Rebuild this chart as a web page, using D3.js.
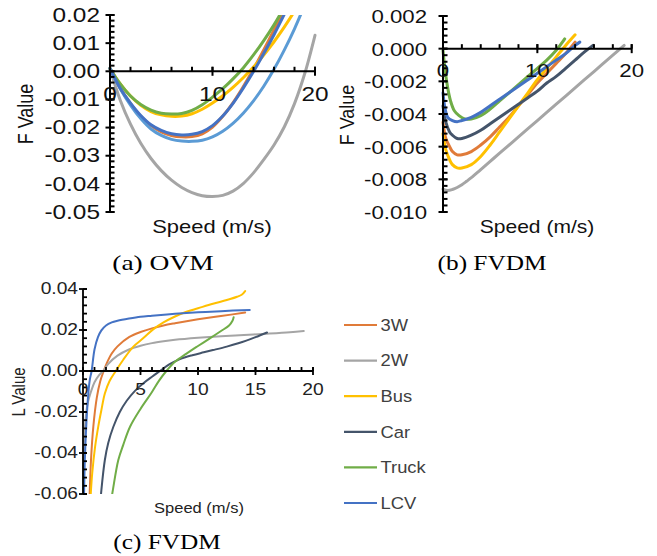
<!DOCTYPE html>
<html><head><meta charset="utf-8">
<script src="https://cdn.jsdelivr.net/npm/d3@7"></script>
<style>html,body{margin:0;padding:0;background:#fff;}svg{display:block;}</style>
</head><body>
<svg id="chart" width="657" height="556"></svg>
<script>
// ---------------- DATA ----------------
const seriesNames = ["3W", "2W", "Bus", "Car", "Truck", "LCV"];

// (a) OVM  – F value vs speed
const ovm_3W = [[0,0.001],[1,-0.006],[2,-0.0115],[3,-0.016],[4,-0.0193],[5,-0.0215],[6,-0.0228],[7,-0.0233],[8,-0.0232],[9,-0.0222],[10,-0.0198],[11,-0.016],[12,-0.0112],[13,-0.0055],[14,0.0008],[15,0.0076],[16,0.0147],[17,0.0222]];
const ovm_2W = [[0,0.001],[1,-0.0103],[2,-0.0188],[3,-0.0256],[4,-0.031],[5,-0.0353],[6,-0.0387],[7,-0.0413],[8,-0.0431],[9,-0.0442],[10,-0.0445],[11,-0.0441],[12,-0.0426],[13,-0.0399],[14,-0.0361],[15,-0.0314],[16,-0.0262],[17,-0.0198],[18,-0.0115],[19,-0.0008],[20,0.0128]];
const ovm_Bus = [[0,0.001],[1,-0.0045],[2,-0.0088],[3,-0.0121],[4,-0.0143],[5,-0.0155],[6,-0.016],[7,-0.0159],[8,-0.0151],[9,-0.0135],[10,-0.0113],[11,-0.0087],[12,-0.0057],[13,-0.0023],[14,0.0015],[15,0.0058],[16,0.0105],[17,0.0157],[17.8,0.0202]];
const ovm_Car = [[0,0.001],[1,-0.0062],[2,-0.012],[3,-0.0168],[4,-0.0205],[5,-0.0228],[6,-0.0242],[7,-0.0248],[8,-0.0249],[9,-0.0245],[10,-0.0233],[11,-0.0213],[12,-0.0185],[13,-0.0149],[14,-0.0105],[15,-0.0053],[16,0.0007],[17,0.0075],[18,0.0151],[18.7,0.021]];
const ovm_Truck = [[0,0.001],[1,-0.0045],[2,-0.0088],[3,-0.0118],[4,-0.0138],[5,-0.0149],[6,-0.0152],[7,-0.015],[8,-0.0139],[9,-0.0119],[10,-0.0092],[11,-0.0062],[12,-0.0027],[13,0.0012],[14,0.0058],[15,0.0109],[16,0.0165],[16.6,0.0202]];
const ovm_LCV = [[0,0.001],[1,-0.006],[2,-0.0113],[3,-0.0157],[4,-0.019],[5,-0.021],[6,-0.0222],[7,-0.0226],[8,-0.0224],[9,-0.0214],[10,-0.0193],[11,-0.0159],[12,-0.0114],[13,-0.006],[14,-0.0001],[15,0.0063],[16,0.013],[17,0.0202]];

// (b) FVDM – F value vs speed
const fvdmF_3W = [[0,-0.0045],[0.3,-0.0055],[0.7,-0.006],[1,-0.0063],[1.5,-0.0065],[2,-0.0065],[3,-0.0063],[4,-0.0059],[5,-0.0054],[6,-0.0048],[7,-0.0042],[8,-0.0035],[9,-0.0028],[10,-0.0021],[11,-0.0015],[12,-0.0009],[13,-0.0003],[14,0.0004]];
const fvdmF_2W = [[0,-0.0086],[0.5,-0.00868],[1,-0.00862],[1.5,-0.0085],[2,-0.00833],[2.5,-0.00812],[3,-0.0079],[4,-0.0074],[5,-0.0069],[6,-0.0064],[8,-0.0054],[10,-0.0044],[12,-0.0034],[14,-0.0024],[16,-0.0014],[18,-0.0004],[19.2,0.0002]];
const fvdmF_Bus = [[0,-0.0052],[0.3,-0.0062],[0.7,-0.0068],[1,-0.0071],[1.5,-0.0073],[2,-0.0073],[3,-0.0071],[4,-0.0066],[5,-0.0059],[6,-0.0051],[7,-0.0043],[8,-0.0035],[9,-0.0027],[10,-0.0019],[11,-0.0012],[12,-0.0005],[13,0.0002],[14,0.00085]];
const fvdmF_Car = [[0,-0.0035],[0.3,-0.0045],[0.7,-0.0051],[1,-0.0053],[1.5,-0.0055],[2,-0.0055],[3,-0.0053],[4,-0.005],[5,-0.0046],[6,-0.0042],[7,-0.0038],[8,-0.0034],[9,-0.003],[10,-0.0026],[11,-0.0021],[12,-0.0017],[13,-0.0012],[14,-0.0007],[15,-0.0002],[15.9,0.0002]];
const fvdmF_Truck = [[0,-0.0001],[0.2,-0.0012],[0.5,-0.0024],[0.8,-0.0032],[1.2,-0.0038],[1.7,-0.0041],[2.3,-0.0043],[3,-0.0043],[4,-0.0041],[5,-0.0037],[6,-0.0032],[7,-0.0027],[8,-0.0022],[9,-0.0017],[10,-0.0012],[11,-0.0007],[12,-0.0001],[12.9,0.0006]];
const fvdmF_LCV = [[0,-0.0027],[0.2,-0.0036],[0.5,-0.0042],[1,-0.0044],[1.5,-0.00447],[2,-0.0044],[3,-0.0042],[4,-0.0039],[5,-0.0035],[6,-0.0031],[7,-0.0027],[8,-0.0023],[9,-0.0019],[10,-0.0015],[11,-0.0011],[12,-0.0007],[13,-0.0003],[14,0.0002],[14.5,0.0004]];

// (c) FVDM – L value vs speed
const fvdmL_3W = [[0.55,-0.065],[0.7,-0.043],[0.9,-0.027],[1.2,-0.013],[1.5,-0.005],[1.8,0],[2.06,0.0037],[2.5,0.0085],[3,0.012],[4,0.0165],[5,0.019],[6,0.0208],[7,0.0222],[8,0.0233],[9,0.0243],[10,0.0252],[12,0.0268],[14.1,0.0285]];
const fvdmL_2W = [[0.05,-0.065],[0.1,-0.04],[0.2,-0.025],[0.4,-0.016],[0.7,-0.01],[1.0,-0.0055],[1.4,-0.002],[1.75,0],[2.2,0.0035],[3,0.0075],[4,0.0105],[5,0.0123],[6,0.0136],[7,0.0145],[8,0.0152],[10,0.0162],[12,0.017],[14,0.0176],[16,0.0182],[18,0.0189],[19.2,0.0195]];
const fvdmL_Bus = [[0.62,-0.065],[0.8,-0.05],[1.05,-0.037],[1.33,-0.027],[1.6,-0.019],[1.9,-0.011],[2.3,-0.005],[2.85,0],[3.5,0.0055],[4.4,0.012],[5.2,0.0158],[6.1,0.0203],[7,0.0237],[8,0.0266],[9,0.0289],[10,0.0306],[11.3,0.0328],[12.5,0.0346],[13.4,0.0362],[13.8,0.0372],[14.1,0.039]];
const fvdmL_Car = [[1.5,-0.065],[1.6,-0.058],[1.9,-0.0434],[2.2,-0.035],[2.64,-0.0272],[3.2,-0.02],[3.8,-0.0145],[4.5,-0.0098],[5.2,-0.0062],[6,-0.0028],[6.7,0],[7.5,0.0032],[8.43,0.0058],[9.5,0.0077],[10.5,0.0091],[11.3,0.0102],[12.5,0.0119],[13.5,0.0135],[14.2,0.0148],[15,0.0165],[16,0.0188]];
const fvdmL_Truck = [[2.4,-0.065],[2.6,-0.058],[3.07,-0.0434],[3.5,-0.036],[4.09,-0.0272],[5,-0.0185],[5.97,-0.0105],[6.6,-0.0048],[7.25,0],[8,0.0045],[9,0.0085],[10,0.0122],[11,0.0158],[12,0.0195],[12.7,0.0222],[13.0,0.0245],[13.1,0.0262]];
const fvdmL_LCV = [[0.08,-0.065],[0.15,-0.045],[0.3,-0.025],[0.46,-0.011],[0.6,-0.004],[0.75,0],[1.0,0.0105],[1.3,0.0165],[1.6,0.0198],[2.0,0.0222],[2.5,0.0237],[3,0.0245],[4,0.0256],[5,0.0265],[6,0.027],[8,0.0279],[10,0.0286],[12,0.0292],[14.5,0.0298]];

// tick values / labels
const ovmXTicks = [0, 10, 20];
const ovmXTickLabels = ["0", "10", "20"];
const ovmYTicks = [0.02, 0.01, 0.00, -0.01, -0.02, -0.03, -0.04, -0.05];
const ovmYTickLabels = ["0.02", "0.01", "0.00", "-0.01", "-0.02", "-0.03", "-0.04", "-0.05"];
const fvdmFXTicks = [0, 10, 20];
const fvdmFXTickLabels = ["0", "10", "20"];
const fvdmFYTicks = [0.002, 0.000, -0.002, -0.004, -0.006, -0.008, -0.010];
const fvdmFYTickLabels = ["0.002", "0.000", "-0.002", "-0.004", "-0.006", "-0.008", "-0.010"];
const fvdmLXTicks = [0, 5, 10, 15, 20];
const fvdmLXTickLabels = ["0", "5", "10", "15", "20"];
const fvdmLYTicks = [0.04, 0.02, 0.00, -0.02, -0.04, -0.06];
const fvdmLYTickLabels = ["0.04", "0.02", "0.00", "-0.02", "-0.04", "-0.06"];

// ---------------- DRAWING ----------------
const colors = {"3W":"#E07B39","2W":"#A5A5A5","Bus":"#FFC000","Car":"#44546A","Truck":"#70AD47","LCV":"#4472C4"};
const colorsA = Object.assign({}, colors, {"Car":"#5B9BD5"});

const svg = d3.select("#chart");
const SANS = "Arial, 'Liberation Sans', sans-serif";
const SERIF = "'Times New Roman', 'Liberation Serif', serif";

function txt(g, x, y, s, o) {
  return g.append("text")
    .attr("transform", `translate(${x},${y}) scale(${o.sx || 1},1) rotate(${o.rot || 0})`)
    .attr("font-family", o.family || SANS)
    .attr("font-size", o.size)
    .attr("fill", o.fill || "#000")
    .attr("text-anchor", o.anchor || "middle")
    .attr("dominant-baseline", o.baseline || "central")
    .text(s);
}

let clipId = 0;
function panel(cfg) {
  const g = svg.append("g");
  const x = d3.scaleLinear().domain(cfg.xDomain).range(cfg.xRange);
  const y = d3.scaleLinear().domain(cfg.yDomain).range(cfg.yRange);
  const id = "clip" + (clipId++);
  g.append("clipPath").attr("id", id).append("rect")
    .attr("x", cfg.xRange[0] - 2).attr("y", y(cfg.yDomain[1]))
    .attr("width", cfg.xRange[1] - cfg.xRange[0] + 10)
    .attr("height", y(cfg.yDomain[0]) - y(cfg.yDomain[1]));

  // lines
  const line = d3.line().x(d => x(d[0])).y(d => y(d[1])).curve(d3.curveCatmullRom.alpha(0.5));
  const lg = g.append("g").attr("clip-path", `url(#${id})`);
  cfg.series.forEach((s, i) => {
    lg.append("path").datum(s).attr("d", line).attr("fill", "none")
      .attr("stroke", cfg.colors[seriesNames[i]]).attr("stroke-width", cfg.lineW)
      .attr("stroke-linecap", "round").attr("stroke-linejoin", "round");
  });

  // axes
  const ax = g.append("g").attr("stroke", "#000").attr("stroke-width", cfg.axisW);
  const x0 = x(0), y0 = y(0);
  ax.append("line").attr("x1", x0).attr("x2", x0).attr("y1", y(cfg.yDomain[1])).attr("y2", y(cfg.yDomain[0]));
  ax.append("line").attr("x1", x0).attr("x2", x(cfg.xDomain[1])).attr("y1", y0).attr("y2", y0);
  const T = cfg.tick;
  const yMin = d3.range(cfg.yDomain[0], cfg.yDomain[1] + cfg.yMinor / 2, cfg.yMinor);
  yMin.forEach(v => ax.append("line").attr("x1", x0).attr("x2", x0 + T).attr("y1", y(v)).attr("y2", y(v)));
  cfg.yTicks.forEach(v => ax.append("line").attr("x1", x0 - T).attr("x2", x0 + T).attr("y1", y(v)).attr("y2", y(v)));
  const xMin = d3.range(cfg.xDomain[0], cfg.xDomain[1] + cfg.xMinor / 2, cfg.xMinor);
  xMin.forEach(v => ax.append("line").attr("x1", x(v)).attr("x2", x(v)).attr("y1", y0 - T).attr("y2", y0));
  cfg.xTicks.forEach(v => ax.append("line").attr("x1", x(v)).attr("x2", x(v)).attr("y1", y0 - T).attr("y2", y0 + T));

  // tick labels
  cfg.yTicks.forEach((v, i) => txt(g, x0 - cfg.yLabGap, y(v), cfg.yLabels[i], {size: cfg.tickSize, sx: cfg.sx, anchor: "end", fill: cfg.tickFill}));
  cfg.xTicks.forEach((v, i) => txt(g, x(v), y0 + cfg.xLabGap, cfg.xLabels[i], {size: cfg.tickSize, sx: cfg.sx, fill: cfg.tickFill}));

  // titles
  txt(g, cfg.yTitle[0], cfg.yTitle[1], cfg.yTitleText, {size: cfg.titleSize, sx: cfg.sx, rot: -90, fill: cfg.tickFill});
  txt(g, cfg.xTitle[0], cfg.xTitle[1], "Speed (m/s)", {size: cfg.titleSize, sx: cfg.titleSx || cfg.sx, fill: cfg.tickFill});
  txt(g, cfg.cap[0], cfg.cap[1], cfg.capText, {size: 22, sx: cfg.capSx, family: SERIF, baseline: "alphabetic"});
}

panel({
  xDomain: [0, 20], xRange: [110, 315], yDomain: [-0.05, 0.02], yRange: [212, 15],
  xTicks: ovmXTicks, xLabels: ovmXTickLabels, yTicks: ovmYTicks, yLabels: ovmYTickLabels,
  xMinor: 2, yMinor: 0.002, tick: 4.5, axisW: 2, lineW: 3,
  series: [ovm_3W, ovm_2W, ovm_Bus, ovm_Car, ovm_Truck, ovm_LCV], colors: colorsA,
  tickSize: 20, sx: 1.22, yLabGap: 10, xLabGap: 23, tickFill: "#111",
  titleSize: 18, yTitleText: "F Value", yTitle: [25, 114], xTitle: [212, 227],
  capText: "(a) OVM", cap: [163, 270], capSx: 1.25
});

panel({
  xDomain: [0, 20], xRange: [443, 631.7], yDomain: [-0.010, 0.002], yRange: [212, 16],
  xTicks: fvdmFXTicks, xLabels: fvdmFXTickLabels, yTicks: fvdmFYTicks, yLabels: fvdmFYTickLabels,
  xMinor: 2, yMinor: 0.0004, tick: 4.5, axisW: 2, lineW: 3,
  series: [fvdmF_3W, fvdmF_2W, fvdmF_Bus, fvdmF_Car, fvdmF_Truck, fvdmF_LCV], colors: colors,
  tickSize: 19, sx: 1.17, yLabGap: 16, xLabGap: 21, tickFill: "#111",
  titleSize: 18, yTitleText: "F Value", yTitle: [346, 115], xTitle: [537, 227],
  capText: "(b) FVDM", cap: [492, 270], capSx: 1.15
});

panel({
  xDomain: [0, 20], xRange: [83, 313], yDomain: [-0.06, 0.04], yRange: [494, 289],
  xTicks: fvdmLXTicks, xLabels: fvdmLXTickLabels, yTicks: fvdmLYTicks, yLabels: fvdmLYTickLabels,
  xMinor: 1, yMinor: 0.004, tick: 4, axisW: 1.8, lineW: 2,
  series: [fvdmL_3W, fvdmL_2W, fvdmL_Bus, fvdmL_Car, fvdmL_Truck, fvdmL_LCV], colors: colors,
  tickSize: 16, sx: 1.2, yLabGap: 5, xLabGap: 19, tickFill: "#222",
  titleSize: 15, titleSx: 1.1, yTitleText: "L Value", yTitle: [19, 392], xTitle: [199, 508],
  capText: "(c) FVDM", cap: [167, 549], capSx: 1.15
});

// legend
const leg = svg.append("g");
seriesNames.forEach((n, i) => {
  const yy = 325 + i * 35.6;
  leg.append("line").attr("x1", 344).attr("x2", 377).attr("y1", yy).attr("y2", yy)
    .attr("stroke", colors[n]).attr("stroke-width", 2.2);
  txt(leg, 380.5, yy, n, {size: 17, sx: 1.08, anchor: "start", fill: "#404040"});
});
</script>
</body></html>
